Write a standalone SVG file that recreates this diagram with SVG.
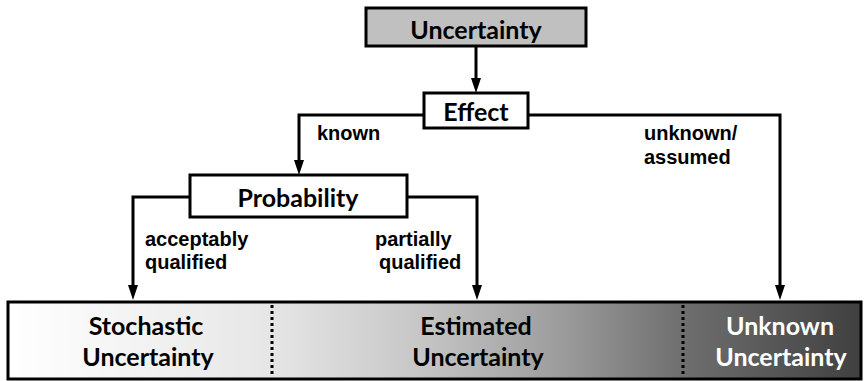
<svg xmlns="http://www.w3.org/2000/svg" width="865" height="381" viewBox="0 0 865 381">
<defs>
<linearGradient id="barGrad" gradientUnits="userSpaceOnUse" x1="8" y1="0" x2="861" y2="0">
<stop offset="0" stop-color="#ffffff"/>
<stop offset="0.307" stop-color="#e6e6e6"/>
<stop offset="0.483" stop-color="#c6c6c6"/>
<stop offset="0.647" stop-color="#9c9c9c"/>
<stop offset="0.788" stop-color="#707070"/>
<stop offset="1" stop-color="#404040"/>
</linearGradient>
<marker id="arrow" markerUnits="userSpaceOnUse" viewBox="0 0 15 10" markerWidth="15" markerHeight="10" refX="2" refY="5" orient="auto">
<path d="M0,0 L15,5 L0,10 z" fill="#000"/>
</marker>
</defs>
<style>
.box{stroke:#000;stroke-width:3;fill:#fff}
.bt{font-family:Lato,"Open Sans","DejaVu Sans",sans-serif;font-weight:bold;font-size:25px;text-anchor:middle;fill:#000}
.lbl{font-family:"Liberation Sans",Arial,sans-serif;font-weight:bold;font-size:20px;fill:#000}
.conn{stroke:#000;stroke-width:3;fill:none;marker-end:url(#arrow)}
.dots{stroke:#000;stroke-width:3;stroke-dasharray:3 3}
</style>
<g id="connectors">
<path class="conn" d="M476,46 L476,80"/>
<path class="conn" d="M424,115 L299,115 L299,162"/>
<path class="conn" d="M528,115 L780,115 L780,287"/>
<path class="conn" d="M190,197 L133,197 L133,287"/>
<path class="conn" d="M407,197 L477,197 L477,287"/>
</g>
<g id="uncertainty">
<rect class="box" x="366" y="8" width="220" height="38" style="fill:#c0c0c0"/>
<text class="bt" x="476" y="39">Uncertainty</text>
</g>
<g id="effect">
<rect class="box" x="424" y="93" width="104" height="35"/>
<text class="bt" x="476" y="121">Effect</text>
</g>
<g id="probability">
<rect class="box" x="190" y="175" width="217" height="42"/>
<text class="bt" x="298" y="207">Probability</text>
</g>
<g id="labels">
<text class="lbl" x="317" y="140">known</text>
<text class="lbl" x="644" y="140">unknown/</text>
<text class="lbl" x="644" y="164">assumed</text>
<text class="lbl" x="145" y="246">acceptably</text>
<text class="lbl" x="145" y="269">qualified</text>
<text class="lbl" x="375" y="246">partially</text>
<text class="lbl" x="379" y="269">qualified</text>
</g>
<g id="result-bar">
<rect x="8" y="302" width="853" height="77" fill="url(#barGrad)" stroke="#000" stroke-width="3"/>
<line class="dots" x1="272" y1="305" x2="272" y2="377"/>
<line class="dots" x1="683" y1="305" x2="683" y2="377"/>
</g>
<g id="stochastic">
<text class="bt" x="146" y="335">Stochastic</text>
<text class="bt" x="148" y="366">Uncertainty</text>
</g>
<g id="estimated">
<text class="bt" x="476" y="335">Estimated</text>
<text class="bt" x="478" y="366">Uncertainty</text>
</g>
<g id="unknown">
<text class="bt" x="780" y="335" style="fill:#fff">Unknown</text>
<text class="bt" x="781" y="366" style="fill:#fff">Uncertainty</text>
</g>
</svg>
